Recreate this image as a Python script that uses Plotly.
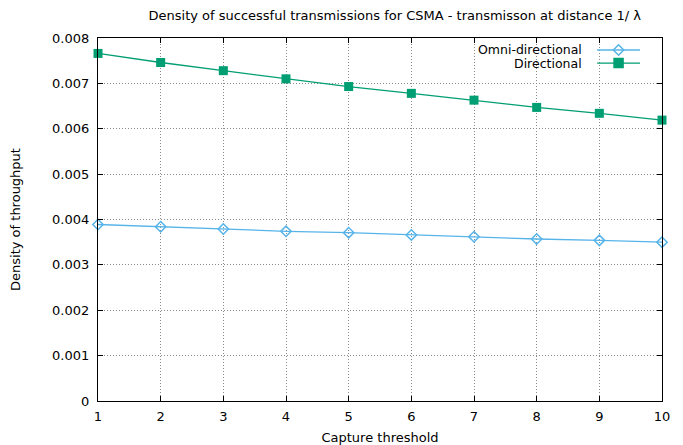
import plotly.graph_objects as go

thresholds = [1, 2, 3, 4, 5, 6, 7, 8, 9, 10]
omni = [0.00389, 0.00384, 0.00379, 0.00374, 0.00371, 0.00366, 0.00362, 0.00357, 0.00354, 0.00350]
directional = [0.00766, 0.00746, 0.00728, 0.00710, 0.00693, 0.00678, 0.00663, 0.00647, 0.00634, 0.00619]
series_names = ["Omni-directional", "Directional"]
y_ticks = [0, 0.001, 0.002, 0.003, 0.004, 0.005, 0.006, 0.007, 0.008]
y_tick_labels = ["0", "0.001", "0.002", "0.003", "0.004", "0.005", "0.006", "0.007", "0.008"]

FONT = "DejaVu Sans, Liberation Sans, Arial, sans-serif"
c_omni = "#56B4E9"
c_dir = "#009E73"

fig = go.Figure()
fig.add_trace(go.Scatter(x=thresholds, y=omni, mode="lines+markers", name=series_names[0],
                         line=dict(color=c_omni, width=1.3),
                         marker=dict(symbol="diamond-open", size=8, color=c_omni, line=dict(width=1.5)),
                         showlegend=False, cliponaxis=False))
fig.add_trace(go.Scatter(x=thresholds, y=directional, mode="lines+markers", name=series_names[1],
                         line=dict(color=c_dir, width=1.3),
                         marker=dict(symbol="square", size=9, color=c_dir),
                         showlegend=False, cliponaxis=False))

# legend samples on an overlay axis (0..1)
leg_x = [0.885, 0.923, 0.961]
for i, (name, col, sym, sz) in enumerate([(series_names[0], c_omni, "diamond-open", 8),
                                           (series_names[1], c_dir, "square", 9)]):
    yy = 0.967 - i * 0.036
    fig.add_trace(go.Scatter(x=leg_x, y=[yy] * 3, mode="lines", xaxis="x2", yaxis="y2",
                             line=dict(color=col, width=1.3), showlegend=False, hoverinfo="skip"))
    fig.add_trace(go.Scatter(x=[leg_x[1]], y=[yy], mode="markers", xaxis="x2", yaxis="y2",
                             marker=dict(symbol=sym, size=sz, color=col, line=dict(width=1.5, color=col)),
                             showlegend=False, hoverinfo="skip"))
    fig.add_annotation(x=0.861, y=yy, xref="x2", yref="y2", text=name, showarrow=False,
                       xanchor="right", yanchor="middle",
                       font=dict(family=FONT, size=12.5, color="black"))

axis_common = dict(showline=True, linecolor="black", linewidth=1.2, mirror="ticks",
                   ticks="inside", ticklen=5, tickcolor="black",
                   showgrid=True, gridcolor="#8a8a8a", griddash="1px,2px", gridwidth=1,
                   zeroline=False, automargin=False,
                   tickfont=dict(family=FONT, size=13, color="black"))

fig.update_layout(
    width=675, height=437,
    margin=dict(l=90, r=21, t=30, b=44),
    paper_bgcolor="white", plot_bgcolor="white",
    title=dict(text="Density of successful transmissions for CSMA - transmisson at distance 1/ λ",
               x=0.573, xanchor="center", y=0.984, yanchor="middle",
               font=dict(family=FONT, size=13, color="black")),
    xaxis=dict(range=[1, 10], tickvals=thresholds, ticktext=[str(t) for t in thresholds],
               ticklabelstandoff=3,
               title=dict(text="Capture threshold", font=dict(family=FONT, size=13, color="black"), standoff=11),
               **axis_common),
    yaxis=dict(range=[0, 0.008], tickvals=y_ticks, ticktext=y_tick_labels,
               ticklabelstandoff=5,
               title=dict(text="Density of throughput", font=dict(family=FONT, size=13, color="black"), standoff=30),
               **axis_common),
    xaxis2=dict(range=[0, 1], overlaying="x", visible=False, fixedrange=True),
    yaxis2=dict(range=[0, 1], overlaying="y", visible=False, fixedrange=True),
    showlegend=False,
)

fig.write_html("out.html")
